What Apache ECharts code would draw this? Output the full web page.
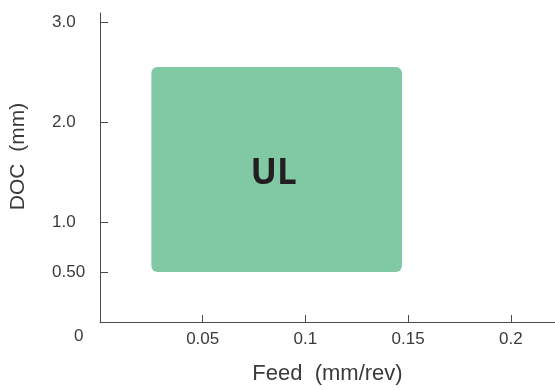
<!DOCTYPE html>
<html>
<head>
<meta charset="utf-8">
<script src="https://cdn.jsdelivr.net/npm/echarts@6/dist/echarts.min.js"></script>
<style>
html,body{margin:0;padding:0;background:#fff;}
#chart{width:555px;height:390px;}
</style>
</head>
<body>
<div id="chart"></div>
<script>
// Data
var regionNames = ['UL'];
var feedRange = [[0.025, 0.147]];   // mm/rev
var docRange = [[0.5, 2.55]];       // mm
var xTickValues = [0.05, 0.1, 0.15, 0.2];
var xTickLabels = ['0.05', '0.1', '0.15', '0.2'];
var yTickValues = [0.5, 1, 2, 3];
var yLabelValues = [0, 0.5, 1, 2, 3];
var yTickLabels = ['0', '0.50', '1.0', '2.0', '3.0'];

var regionData = regionNames.map(function (n, i) {
  return [feedRange[i][0], feedRange[i][1], docRange[i][0], docRange[i][1], n];
});

var chart = echarts.init(document.getElementById('chart'));
var axisColor = '#4a4a4a';
var labelColor = '#3a3a3a';
var fontFam = '"Liberation Sans", Arial, Helvetica, sans-serif';

chart.setOption({
  animation: false,
  grid: { left: 100, right: 0, top: 13, bottom: 65 },
  xAxis: {
    type: 'value', min: 0, max: 0.2215,
    name: 'Feed  (mm/rev)', nameLocation: 'middle', nameGap: 41,
    nameTextStyle: { fontSize: 22, color: labelColor, fontFamily: fontFam },
    splitLine: { show: false },
    axisLine: { lineStyle: { color: axisColor, width: 1 } },
    axisTick: { show: true, inside: true, length: 7, customValues: xTickValues, lineStyle: { color: axisColor } },
    axisLabel: {
      customValues: xTickValues, margin: 9, fontSize: 17, color: labelColor, fontFamily: fontFam,
      formatter: function (v) { var i = xTickValues.indexOf(v); return i >= 0 ? xTickLabels[i] : ''; }
    }
  },
  yAxis: {
    type: 'value', min: 0, max: 3.09,
    name: 'DOC  (mm)', nameLocation: 'middle', nameGap: 71,
    nameTextStyle: { fontSize: 21, color: labelColor, fontFamily: fontFam, padding: [0, 0, 0, 22] },
    splitLine: { show: false },
    axisLine: { show: true, lineStyle: { color: axisColor, width: 1 } },
    axisTick: { show: true, inside: true, length: 8, customValues: yTickValues, lineStyle: { color: axisColor } },
    axisLabel: {
      customValues: yLabelValues, margin: 48, align: 'left', fontSize: 17, color: labelColor, fontFamily: fontFam,
      formatter: function (v) {
        var i = yLabelValues.indexOf(v);
        if (i < 0) return '';
        return v === 0 ? '{z|' + yTickLabels[i] + '}' : yTickLabels[i];
      },
      rich: { z: { fontSize: 17, color: labelColor, fontFamily: fontFam, padding: [28, 0, 0, 22] } }
    }
  },
  series: [{
    type: 'custom',
    data: regionData,
    renderItem: function (params, api) {
      var p0 = api.coord([api.value(0), api.value(3)]);
      var p1 = api.coord([api.value(1), api.value(2)]);
      return {
        type: 'rect',
        shape: { x: p0[0], y: p0[1], width: p1[0] - p0[0], height: p1[1] - p0[1], r: 6 },
        style: { fill: '#80C9A4' },
        textContent: {
          style: {
            text: regionData[params.dataIndex][4],
            fill: '#231F20',
            fontSize: 35, fontWeight: 'bold', fontFamily: '"Open Sans", "DejaVu Sans", sans-serif'
          }
        },
        textConfig: { position: 'inside', offset: [-3, 5] }
      };
    }
  }]
});
</script>
</body>
</html>
